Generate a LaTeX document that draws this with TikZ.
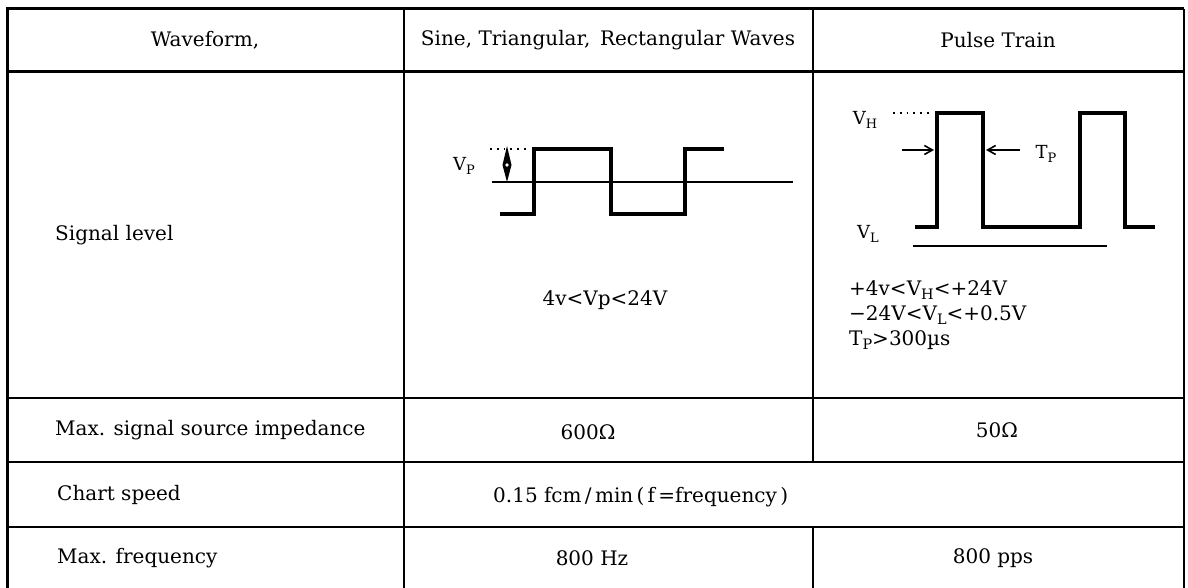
\documentclass[tikz,border=0pt]{standalone}
\usepackage{fontspec}
\setmainfont{DejaVu Serif}
\usepackage{tikz}
\usetikzlibrary{arrows.meta}

\newcommand{\lowidx}[1]{\raisebox{-0.4ex}{\scalebox{0.72}{#1}}}

\tikzset{
  celltext/.style={inner sep=0pt, font=\fontsize{20}{25}\selectfont},
  sigtext/.style={inner sep=0pt, font=\fontsize{18}{20}\selectfont},
  ruleline/.style={line width=1.6pt},
  boldrule/.style={line width=3pt},
  waveline/.style={line width=3.5pt, line join=miter},
  baseline/.style={line width=1.5pt},
  dotline/.style={line width=1.8pt, dash pattern=on 1.8pt off 5pt},
  tparrow/.style={line width=1.6pt, -{Straight Barb[length=8pt,width=9pt]}}
}

\begin{document}
\begin{tikzpicture}[x=1pt,y=-1pt]
\useasboundingbox (0,0) rectangle (1188,588);

% frame
\draw[boldrule] (7,9) -- (1184,9) ; % top
\draw[boldrule] (7,72) -- (1184,72) ; % header
\draw[ruleline] (7,398) -- (1184,398) ; % signal level row
\draw[ruleline] (7,462) -- (1184,462) ; % impedance row
\draw[ruleline] (7,527) -- (1184,527) ; % chart speed row
\draw[boldrule] (7,7.5) -- (7,588) ; % left
\draw[ruleline] (404,9) -- (404,588) ; % column 1
\draw[ruleline] (813,9) -- (813,462) ; % column 2
\draw[ruleline] (813,527) -- (813,588) ; % column 2, last row
\draw[line width=1.2pt] (1184,9) -- (1184,588) ; % right

% header row
\node[celltext] (hdwave) at (205,40) {Waveform,};
\node[celltext] (hdsine) at (608,40) {Sine, Triangular,\, Rectangular Waves};
\node[celltext] (hdpulse) at (998,40) {Pulse Train};

% left column
\node[celltext, anchor=west] (lbsig) at (55,235) {Signal level};
\node[celltext, anchor=west] (lbimp) at (55,430) {Max. signal source impedance};
\node[celltext, anchor=west] (lbchart) at (57,495) {Chart speed};
\node[celltext, anchor=west] (lbfreq) at (57,558) {Max. frequency};

% rectangular wave
\draw[baseline] (492,182) -- (793,182) ; % zero line
\draw[dotline] (490,149) -- (527,149) ; % peak mark
\draw[waveline] (500,214) -- (534,214) -- (534,149) -- (611,149) -- (611,214)
  -- (685,214) -- (685,149) -- (724,149) ; % wave
\fill (507,146) -- (511.5,165) -- (507,182) -- (502.5,165) -- cycle ; % Vp arrow
\fill[white] (507,165) circle (1.8) ; % Vp arrow hole
\node[sigtext] (lbvp) at (464,166) {V\lowidx{P}};
\node[celltext] (vsig1) at (605,300) {4v<Vp<24V};

% pulse train
\draw[dotline] (893,113) -- (929,113) ; % high mark
\draw[waveline] (915,227) -- (937,227) -- (937,113) -- (983,113) -- (983,227)
  -- (1080,227) -- (1080,113) -- (1125,113) -- (1125,227) -- (1155,227) ; % pulses
\draw[baseline] (913,246) -- (1107,246) ; % low line
\coordinate (tpa) at (902,150);
\coordinate (tpb) at (934,150);
\coordinate (tpc) at (1020,150);
\coordinate (tpd) at (986,150);
\draw[tparrow] (tpa) -- (tpb) ; % left edge
\draw[tparrow] (tpc) -- (tpd) ; % right edge
\node[sigtext] (lbvh) at (865,120) {V\lowidx{H}};
\node[sigtext] (lbtp) at (1046,154) {T\lowidx{P}};
\node[sigtext] (lbvl) at (868,234) {V\lowidx{L}};
\node[celltext, anchor=west, align=left] (vsig2) at (849,315)
  {+4v<V\lowidx{H}<+24V\\ −24V<V\lowidx{L}<+0.5V\\ T\lowidx{P}>300µs};

% value rows
\node[celltext] (vimp1) at (588,432) {600Ω};
\node[celltext] (vimp2) at (997,430) {50Ω};
\node[celltext, anchor=west] (vchart) at (493,497) {0.15 fcm\,/\,min\,(\,f\,=frequency\,)};
\node[celltext] (vfreq1) at (592,558) {800 Hz};
\node[celltext] (vfreq2) at (993,558) {800 pps};
\end{tikzpicture}
\end{document}
